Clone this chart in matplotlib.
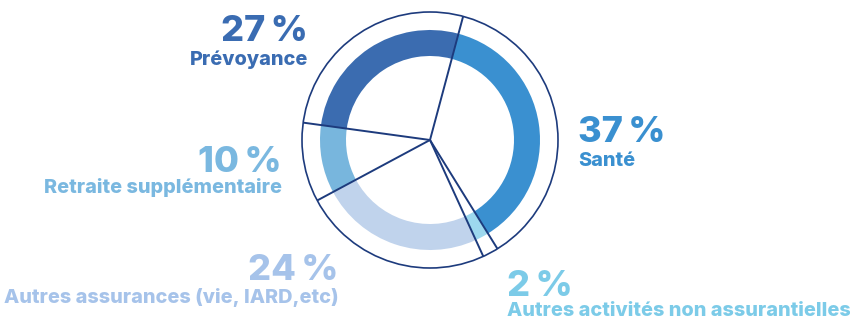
import numpy as np
import matplotlib.pyplot as plt
from matplotlib.patches import Circle

labels = ["Santé", "Autres activités non assurantielles",
          "Autres assurances (vie, IARD,etc)", "Retraite supplémentaire", "Prévoyance"]
shares = [37, 2, 24, 10, 27]
colors = ["#3a90d0", "#9dd8ee", "#c0d3ec", "#78b6dd", "#3b6cb0"]
text_colors = ["#3a90d0", "#7ccbe8", "#a6c3ea", "#7ab8e0", "#3a6cb2"]

W, H = 850, 320
cx, cy = 430, H - 140
start = 75  # degrees, counter-clockwise from +x

fig = plt.figure(figsize=(W / 100, H / 100), dpi=100)
ax = fig.add_axes([0, 0, 1, 1])

ax.pie(shares, colors=colors, startangle=start, counterclock=False,
       center=(cx, cy), radius=110, wedgeprops=dict(width=26, linewidth=0))

navy = "#1d3b7d"
ax.add_patch(Circle((cx, cy), 128, fill=False, edgecolor=navy, lw=1.2, zorder=5))

# radial separators from the centre to the outer circle
cum = np.cumsum([0] + shares[:-1]) / sum(shares)
for c in cum:
    a = np.radians(start - 360 * c)
    ax.plot([cx, cx + 128 * np.cos(a)], [cy, cy + 128 * np.sin(a)],
            color=navy, lw=1.4, zorder=6, solid_capstyle="butt")

# (x, pct baseline, label baseline, alignment), y measured from the top
placement = [
    (578, 142, 166, "left"),
    (507, 296, 316, "left"),
    (339, 280, 303, "right"),
    (282, 172, 193, "right"),
    (308, 41, 65, "right"),
]
fam = ["Inter", "DejaVu Sans"]
for lab, val, col, (x, yp, yl, ha) in zip(labels, shares, text_colors, placement):
    ax.text(x, H - yp, f"{val}\u2009%", color=col, fontsize=26, fontweight=800,
            family=fam, ha=ha, va="baseline")
    ax.text(x, H - yl, lab, color=col, fontsize=14.3, fontweight=800,
            family=fam, ha=ha, va="baseline")

ax.set_xlim(0, W)
ax.set_ylim(0, H)
ax.set_aspect("equal")
ax.axis("off")
fig.savefig("out.png", dpi=100)
